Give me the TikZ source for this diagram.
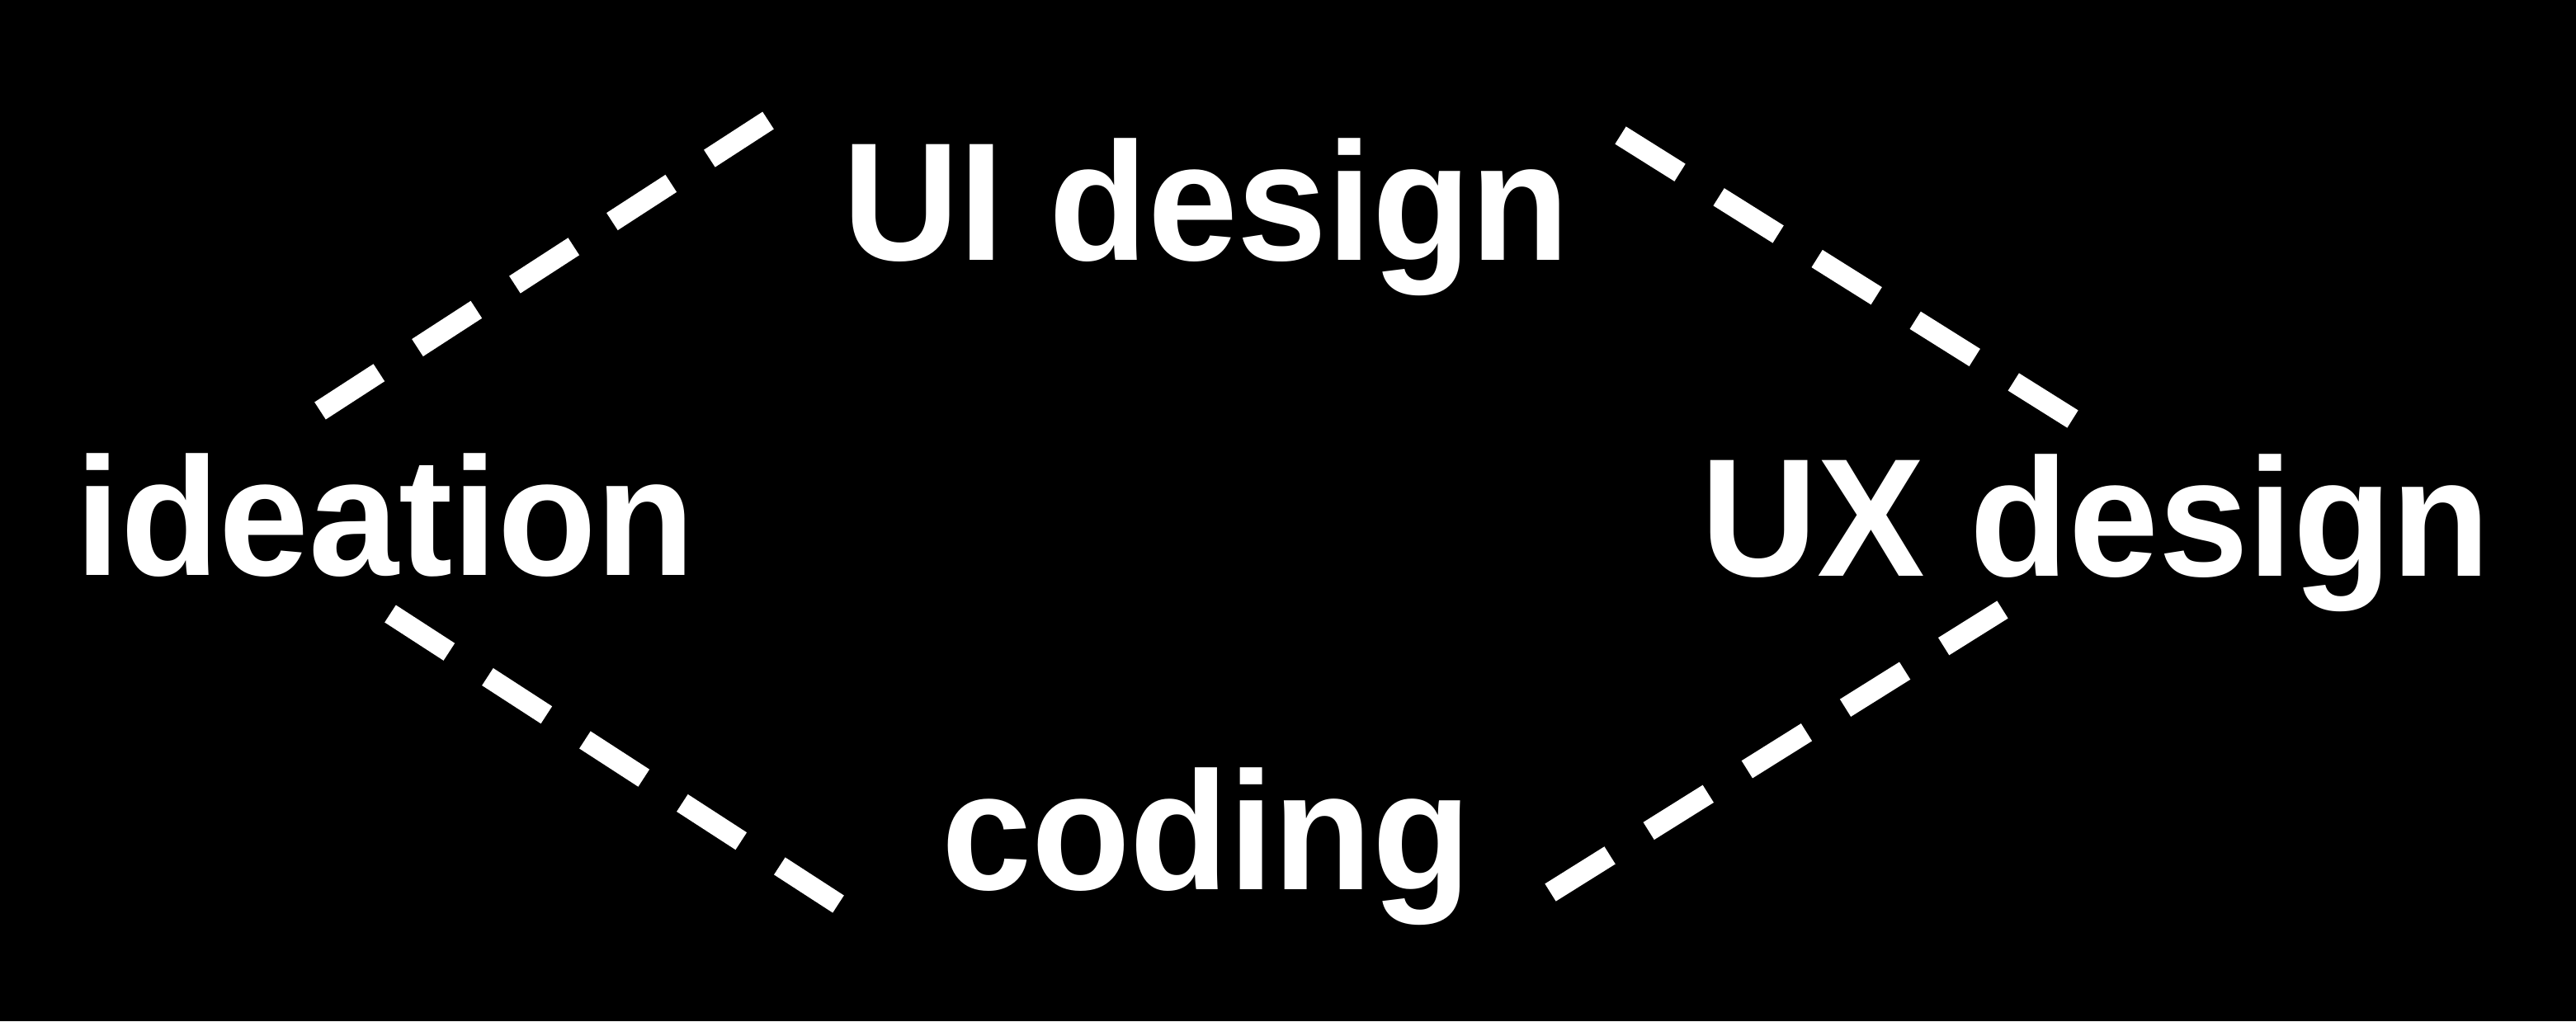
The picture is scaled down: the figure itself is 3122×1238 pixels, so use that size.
\documentclass[tikz,border=0pt]{standalone}
\usepackage{fontspec}
\newfontfamily\labelfont[FakeStretch=0.96]{Liberation Sans}
\begin{document}
\begin{tikzpicture}[x=0.01cm,y=-0.01cm,
  lbl/.style={inner sep=0pt,outer sep=0pt,anchor=base,text=white,
    font=\labelfont\bfseries\fontsize{58}{62}\selectfont},
  link/.style={draw=white,line width=0.25cm,line cap=butt,
    dash pattern=on 0.85cm off 0.555cm}]
\fill[black] (0,0) rectangle (3122,1238);
\useasboundingbox (0,0) rectangle (3122,1238);
% labels
\node[lbl] (ui) at (1462,315) {UI design};
\node[lbl] (idea) at (467,697) {ideation};
\node[lbl] (ux) at (2540,698) {UX design};
\node[lbl] (code) at (1462,1078) {coding};
% connector end points
\coordinate (idea-ne) at (388,498);
\coordinate (ui-w) at (931,146);
\coordinate (ui-e) at (1964,164);
\coordinate (ux-nw) at (2512,508);
\coordinate (idea-se) at (473,744);
\coordinate (code-w) at (1016,1096);
\coordinate (code-e) at (1879,1082);
\coordinate (ux-sw) at (2427,739);
% dashed connectors
\draw[link] (idea-ne) -- (ui-w);
\draw[link] (ui-e) -- (ux-nw);
\draw[link] (idea-se) -- (code-w);
\draw[link] (code-e) -- (ux-sw);
\end{tikzpicture}
\end{document}
